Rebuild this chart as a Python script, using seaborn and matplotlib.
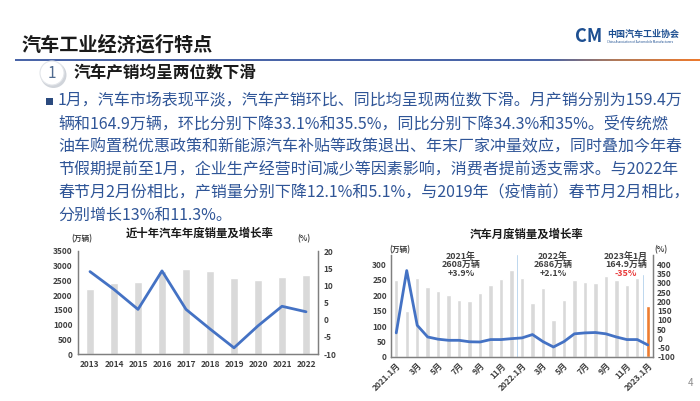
import numpy as np
import pandas as pd
import matplotlib
matplotlib.use("Agg")
import matplotlib.pyplot as plt
import seaborn as sns
from matplotlib.patches import Ellipse, Rectangle
from matplotlib.colors import LinearSegmentedColormap

# --- data ---
years = ['2013', '2014', '2015', '2016', '2017', '2018', '2019', '2020', '2021', '2022']
annual_sales = [2200, 2400, 2460, 2810, 2890, 2810, 2580, 2530, 2630, 2690]
annual_growth = [14.0, 8.8, 3.0, 14.2, 3.0, -2.7, -8.2, -1.8, 3.9, 2.3]

months = ['2021.1', '2021.2', '2021.3', '2021.4', '2021.5', '2021.6', '2021.7', '2021.8',
          '2021.9', '2021.10', '2021.11', '2021.12',
          '2022.1', '2022.2', '2022.3', '2022.4', '2022.5', '2022.6', '2022.7', '2022.8',
          '2022.9', '2022.10', '2022.11', '2022.12', '2023.1']
monthly_sales = [249, 148, 254, 226, 213, 202, 186, 181, 208, 233, 252, 280,
                 254, 175, 224, 119, 186, 249, 243, 239, 262, 250, 234, 254, 165]
monthly_growth = [30, 366, 71, 8, -4, -10, -10, -18, -19, -6, -6, -1,
                  3, 21, -17, -46, -17, 25, 30, 32, 25, 8, -6, -6, -35]
month_tick_labels = ['2021.1月', '3月', '5月', '7月', '9月', '11月', '2022.1月',
                     '3月', '5月', '7月', '9月', '11月', '2023.1月']

text_lines = [
    "1月，汽车市场表现平淡，汽车产销环比、同比均呈现两位数下滑。月产销分别为159.4万",
    "辆和164.9万辆，环比分别下降33.1%和35.5%，同比分别下降34.3%和35%。受传统燃",
    "油车购置税优惠政策和新能源汽车补贴等政策退出、年末厂家冲量效应，同时叠加今年春",
    "节假期提前至1月，企业生产经营时间减少等因素影响，消费者提前透支需求。与2022年",
    "春节月2月份相比，产销量分别下降12.1%和5.1%，与2019年（疫情前）春节月2月相比，",
    "分别增长13%和11.3%。",
]

sns.set_style("white")
plt.rcParams['font.family'] = ['Noto Sans CJK SC', 'DejaVu Sans']
plt.rcParams['axes.unicode_minus'] = False

W, H = 700, 401
BAR_GRAY = '#d9d9d9'
LINE_BLUE = '#4472c4'
TEXT_BLUE = '#2f5597'
AX_GRAY = '#7f7f7f'
TICK_COL = '#404040'


def rect(x0, y0, x1, y1):
    return [x0 / W, 1 - y1 / H, (x1 - x0) / W, (y1 - y0) / H]


def ftext(x, y, s, **kw):
    return fig.text(x / W, 1 - y / H, s, **kw)


fig = plt.figure(figsize=(7.0, 4.01), dpi=100)
fig.patch.set_facecolor('white')

# --- header ---
ftext(22, 45, "汽车工业经济运行特点", fontsize=13.8, fontweight='bold', color='#1a1a1a',
      va='center', ha='left')

# gradient rule under title
ax_rule = fig.add_axes(rect(15, 59, 700, 61))
cmap = LinearSegmentedColormap.from_list(
    'rule', [(0, '#4a65a8'), (0.78, '#4a65a8'), (0.88, '#b07a5a'), (1.0, '#ec7a2e')])
ax_rule.imshow(np.linspace(0, 1, 300).reshape(1, -1), aspect='auto', cmap=cmap)
ax_rule.axis('off')

# logo
ftext(575, 37, "CM", fontsize=13, fontweight='bold', style='italic', color='#1d4f91',
      va='center', ha='left')
ftext(607, 34, "中国汽车工业协会", fontsize=6.5, fontweight='bold', color='#1d4f91',
      va='center', ha='left')
ftext(607, 42, "China Association of Automobile Manufacturers", fontsize=2.2,
      color='#1d4f91', va='center', ha='left')

# section number bubble
fig.patches.append(Ellipse((53.5 / W, 1 - 75 / H), 26 / W, 26 / H, transform=fig.transFigure,
                           facecolor='#d0d4da', edgecolor='none', zorder=1))
fig.patches.append(Ellipse((52 / W, 1 - 73 / H), 24 / W, 24 / H, transform=fig.transFigure,
                           facecolor='white', edgecolor='#e3e6ea', linewidth=0.8, zorder=2))
ftext(52, 73, "1", fontsize=11, color='#4f6a8f', ha='center', va='center', zorder=3)
ftext(74, 73, "汽车产销均呈两位数下滑", fontsize=12, fontweight='bold', color='#1a1a1a',
      ha='left', va='center')

# paragraph
fig.patches.append(Rectangle((46 / W, 1 - 105 / H), 7 / W, 7 / H, transform=fig.transFigure,
                             facecolor='#2b4a7e', edgecolor='none'))
line_y = [101, 124, 147, 170, 193, 215]
for ln, y in zip(text_lines, line_y):
    ftext(58, y, ln, fontsize=11.5, color=TEXT_BLUE, ha='left', va='center')

# --- left chart: annual ---
ax1 = fig.add_axes(rect(78, 251, 318, 354))
sns.barplot(x=years, y=annual_sales, ax=ax1, color=BAR_GRAY, width=0.34, saturation=1)
ax1.set_ylim(0, 3500)
ax1.set_yticks(range(0, 3501, 500))
ax1b = ax1.twinx()
sns.lineplot(x=np.arange(len(years)), y=annual_growth, ax=ax1b, color=LINE_BLUE, linewidth=2)
ax1b.set_ylim(-10, 20)
ax1b.set_yticks(range(-10, 21, 5))
for a in (ax1, ax1b):
    a.set_xlabel('')
    a.set_ylabel('')
    a.spines['top'].set_visible(False)
    for s in ('left', 'right', 'bottom'):
        a.spines[s].set_color(AX_GRAY)
        a.spines[s].set_linewidth(0.9)
    a.tick_params(length=0, labelsize=6, labelcolor=TICK_COL, pad=4)
    for lab in a.get_xticklabels() + a.get_yticklabels():
        lab.set_fontweight('bold')
ax1.set_xlim(-0.5, len(years) - 0.5)
ftext(200, 233, "近十年汽车年度销量及增长率", fontsize=8.2, fontweight='bold', color='#1a1a1a',
      ha='center', va='center')
ftext(82, 239, "(万辆)", fontsize=5.5, fontweight='bold', color=TICK_COL, ha='center', va='center')
ftext(304, 239, "(%)", fontsize=5.5, fontweight='bold', color=TICK_COL, ha='center', va='center')

# --- right chart: monthly ---
ax2 = fig.add_axes(rect(391, 255, 653, 357))
bar_colors = [BAR_GRAY] * (len(months) - 1) + ['#ed7d31']
sns.barplot(x=months, y=monthly_sales, hue=months, palette=bar_colors, legend=False,
            ax=ax2, width=0.42, saturation=1)
ax2.set_ylim(0, 330)
ax2.set_yticks(range(0, 301, 50))
ax2.axvline(11.5, color='#bdd7ee', linewidth=0.7)
ax2.axvline(23.5, ymax=0.8, color='#bdd7ee', linewidth=0.7)
ax2b = ax2.twinx()
sns.lineplot(x=np.arange(len(months)), y=monthly_growth, ax=ax2b, color=LINE_BLUE, linewidth=2)
ax2b.set_ylim(-100, 450)
ax2b.set_yticks(range(-100, 401, 50))
ax2.set_xticks(range(0, len(months), 2))
ax2.set_xticklabels(month_tick_labels, rotation=45, ha='right', rotation_mode='anchor')
for a in (ax2, ax2b):
    a.set_xlabel('')
    a.set_ylabel('')
    a.spines['top'].set_visible(False)
    for s in ('left', 'right', 'bottom'):
        a.spines[s].set_color(AX_GRAY)
        a.spines[s].set_linewidth(0.9)
    a.tick_params(length=0, labelsize=6, labelcolor=TICK_COL, pad=3)
    for lab in a.get_xticklabels() + a.get_yticklabels():
        lab.set_fontweight('bold')
ax2.set_xlim(-0.5, len(months) - 0.5)

ftext(527, 234, "汽车月度销量及增长率", fontsize=8.2, fontweight='bold', color='#1a1a1a',
      ha='center', va='center')
ftext(400, 250, "(万辆)", fontsize=5.5, fontweight='bold', color=TICK_COL, ha='center', va='center')
ftext(661, 250, "(%)", fontsize=5.5, fontweight='bold', color=TICK_COL, ha='center', va='center')

notes = [
    (461, ["2021年", "2608万辆", "+3.9%"], [TICK_COL, TICK_COL, TICK_COL]),
    (553, ["2022年", "2686万辆", "+2.1%"], [TICK_COL, TICK_COL, TICK_COL]),
    (626, ["2023年1月", "164.9万辆", "-35%"], [TICK_COL, TICK_COL, '#e83a3a']),
]
for cx, lines, cols in notes:
    for k, (s, c) in enumerate(zip(lines, cols)):
        ftext(cx, 256 + k * 8.7, s, fontsize=6.4, fontweight='bold', color=c,
              ha='center', va='center')

ftext(690, 383, "4", fontsize=7, color='#8c8c8c', ha='center', va='center')

fig.savefig("out.png", dpi=100, facecolor='white')
